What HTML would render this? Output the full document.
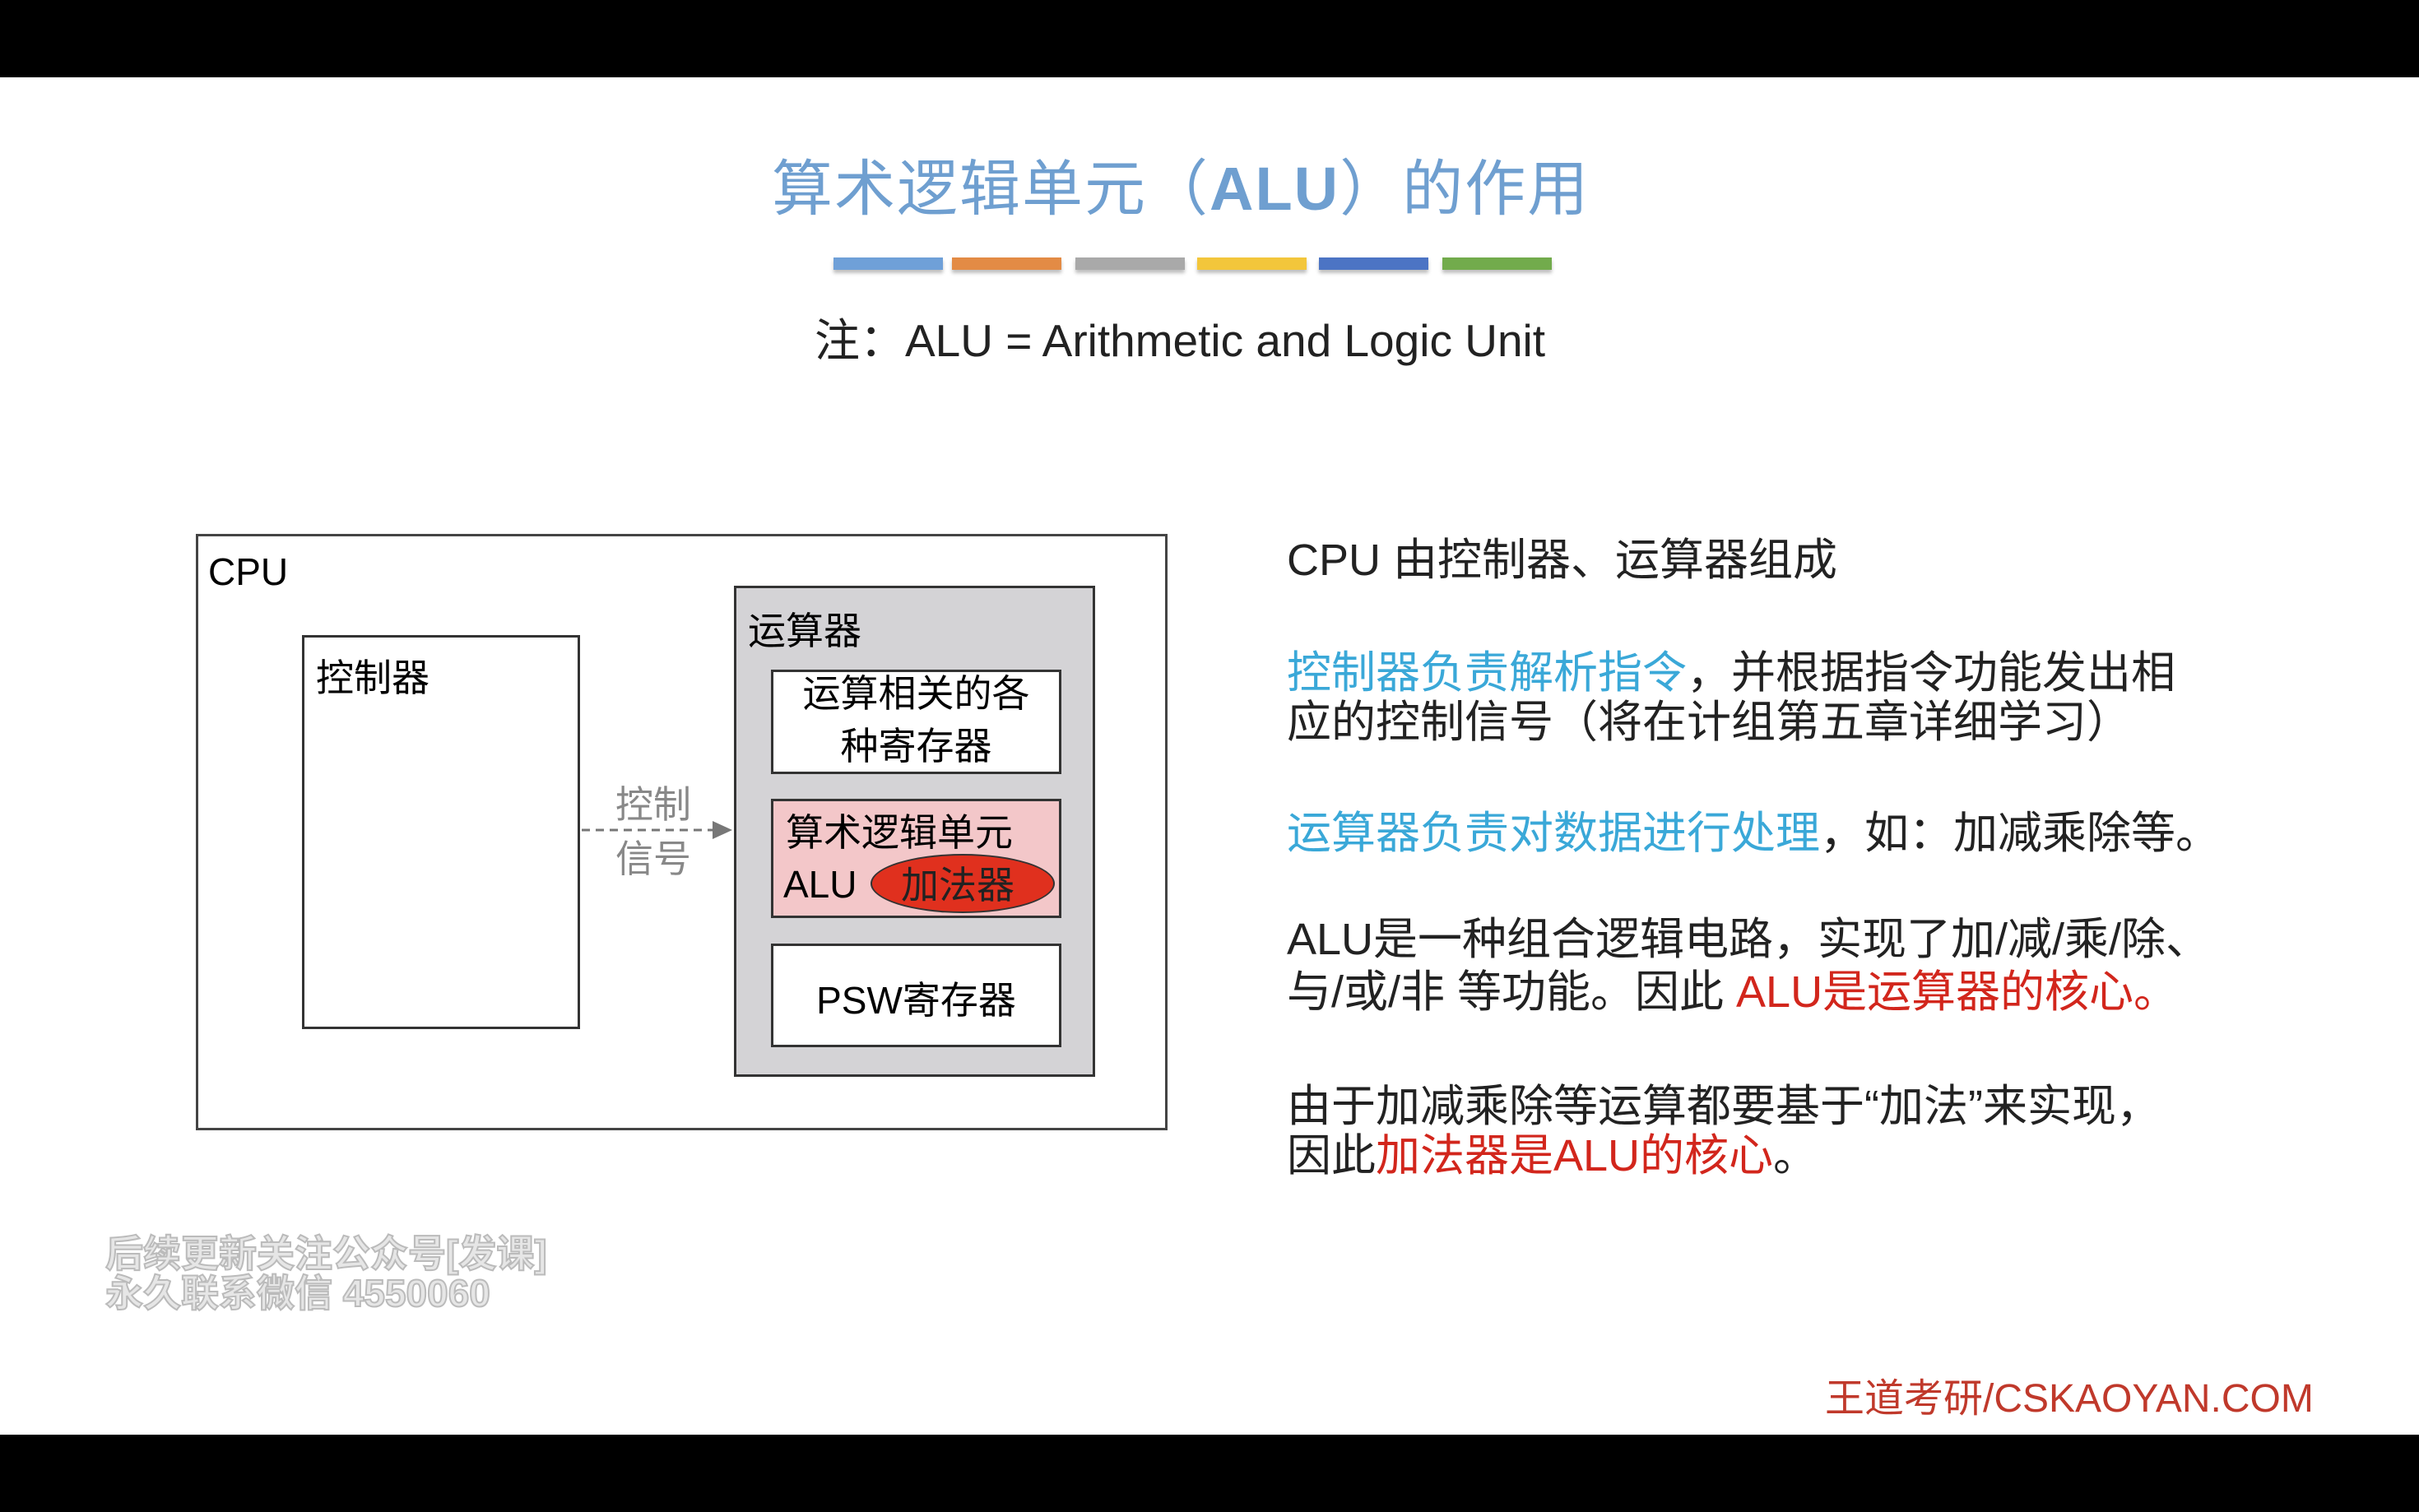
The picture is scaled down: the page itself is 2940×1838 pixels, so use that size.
<!DOCTYPE html>
<html><head><meta charset="utf-8"><style>
*{margin:0;padding:0;box-sizing:border-box}
body{width:2940px;height:1838px;background:#000;position:relative;overflow:hidden;font-family:"Liberation Sans","Noto Sans CJK SC",sans-serif}
.slide{position:absolute;left:0;top:94px;width:2940px;height:1650px;background:#fff}
.a{position:absolute;white-space:nowrap}
.box{position:absolute;border:3px solid #333}
.bar{position:absolute;top:313px;width:133px;height:15px;box-shadow:0 4px 4px rgba(0,0,0,.25)}
.rt{position:absolute;left:1564px;font-size:54px;color:#222;white-space:nowrap;font-family:"Liberation Sans","Noto Sans CJK SC",sans-serif}
.c{color:#3aa8d8}.r{color:#d2261c}
</style></head><body>
<div class="slide"></div>
<div class="a" style="left:938px;top:170px;font-size:74px;color:#6f9fd0;letter-spacing:2px">算术逻辑单元（<b>ALU</b>）的作用</div>
<div class="bar" style="left:1013px;background:#6fa0d8"></div>
<div class="bar" style="left:1157px;background:#e38b45"></div>
<div class="bar" style="left:1307px;background:#a9a9a9"></div>
<div class="bar" style="left:1455px;background:#f3c63b"></div>
<div class="bar" style="left:1603px;background:#4c74c4"></div>
<div class="bar" style="left:1753px;background:#72ab4c"></div>
<div class="a" style="left:990px;top:369px;font-size:55px;color:#222">注：ALU = Arithmetic and Logic Unit</div>

<div class="box" style="left:238px;top:649px;width:1181px;height:725px;border-color:#444"></div>
<div class="a" style="left:253px;top:668px;font-size:46px">CPU</div>
<div class="box" style="left:367px;top:772px;width:338px;height:479px"></div>
<div class="a" style="left:384px;top:788px;font-size:46px">控制器</div>
<div class="box" style="left:892px;top:712px;width:439px;height:597px;background:#d4d3d6"></div>
<div class="a" style="left:909px;top:731px;font-size:46px">运算器</div>
<div class="box" style="left:937px;top:814px;width:353px;height:127px;background:#fff"></div>
<div class="a" style="left:937px;top:811px;width:353px;text-align:center;font-size:46px;line-height:64px;white-space:normal">运算相关的各<br>种寄存器</div>
<div class="box" style="left:937px;top:971px;width:353px;height:145px;background:#f3c7c9"></div>
<div class="a" style="left:955px;top:976px;font-size:46px">算术逻辑单元</div>
<div class="a" style="left:952px;top:1048px;font-size:46px">ALU</div>
<div style="position:absolute;left:1058px;top:1038px;width:224px;height:72px;border-radius:50%;background:#e0301e;border:2px solid #333"></div>
<div class="a" style="left:1095px;top:1040px;font-size:46px;color:#222">加法器</div>
<div class="box" style="left:937px;top:1147px;width:353px;height:126px;background:#fff"></div>
<div class="a" style="left:937px;top:1180px;width:353px;text-align:center;font-size:46px">PSW寄存器</div>

<svg style="position:absolute;left:0;top:0" width="2940" height="1838">
<line x1="707" y1="1009" x2="868" y2="1009" stroke="#777" stroke-width="3" stroke-dasharray="10,7"/>
<polygon points="866,998 890,1009 866,1020" fill="#777"/>
</svg>
<div class="a" style="left:748px;top:942px;font-size:46px;color:#888">控制</div>
<div class="a" style="left:748px;top:1008px;font-size:46px;color:#888">信号</div>

<div class="rt" style="top:636px">CPU 由控制器、运算器组成</div>
<div class="rt" style="top:773px"><span class="c">控制器负责解析指令</span>，并根据指令功能发出相</div>
<div class="rt" style="top:833px">应的控制信号（将在计组第五章详细学习）</div>
<div class="rt" style="top:968px"><span class="c">运算器负责对数据进行处理</span>，如：加减乘除等。</div>
<div class="rt" style="top:1097px">ALU是一种组合逻辑电路，实现了加/减/乘/除、</div>
<div class="rt" style="top:1161px">与/或/非 等功能。因此 <span class="r">ALU是运算器的核心。</span></div>
<div class="rt" style="top:1300px">由于加减乘除等运算都要基于“加法”来实现，</div>
<div class="rt" style="top:1360px">因此<span class="r">加法器是ALU的核心</span>。</div>

<div class="a" style="left:2218px;top:1660px;font-size:48px;color:#c0392b">王道考研/CSKAOYAN.COM</div>
<div class="a" style="left:128px;top:1500px;font-size:46px;font-weight:bold;color:#e6e6e6;-webkit-text-stroke:2px #bbb;line-height:48px">后续更新关注公众号[发课]<br>永久联系微信 4550060</div>
</body></html>
